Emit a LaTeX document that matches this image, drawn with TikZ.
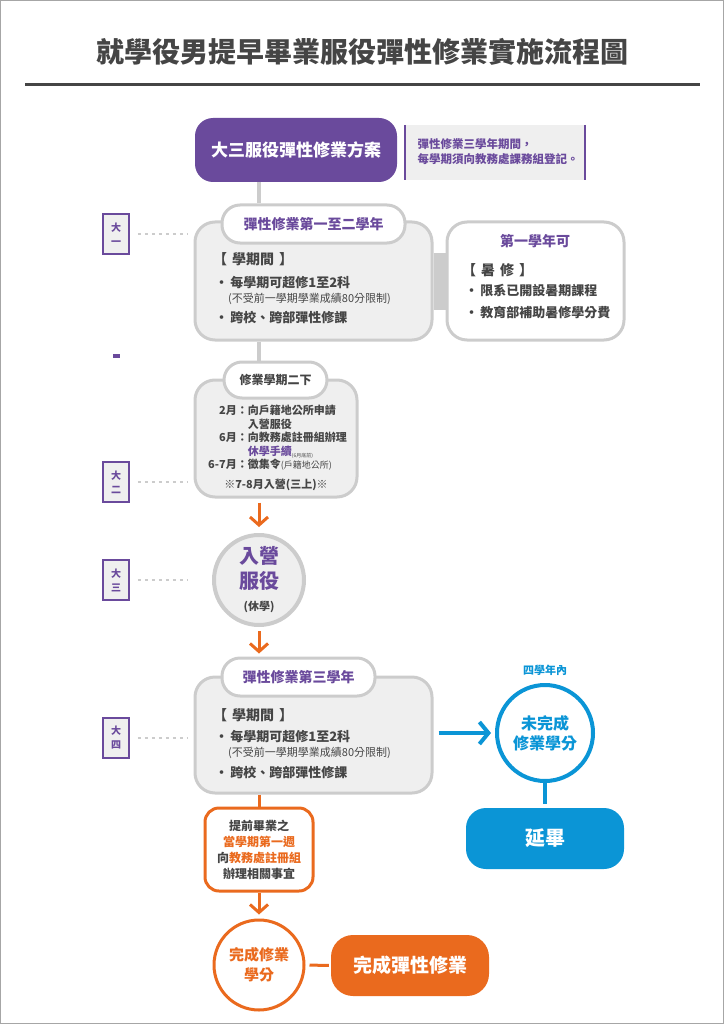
\documentclass[tikz,border=0pt]{standalone}
\usepackage{fontspec}
\setmainfont{Noto Sans CJK TC}
\usetikzlibrary{positioning}
\usetikzlibrary{arrows.meta}
\usetikzlibrary{backgrounds}
\definecolor{purp}{HTML}{6A4A9C}
\definecolor{orng}{HTML}{EA6A1E}
\definecolor{blu}{HTML}{0B95D6}
\definecolor{boxfill}{HTML}{EFEFEF}
\definecolor{boxline}{HTML}{CCCCCC}
\definecolor{dark}{HTML}{454545}
\newcommand{\fs}[2]{\fontsize{#1}{#2}\selectfont}
\tikzset{graybox/.style = {draw=boxline, fill=boxfill, line width=3pt, rounded corners=20pt}}
\tikzset{pill/.style = {draw=boxline, fill=white, line width=3pt, rounded corners=18pt, font=\fs{14}{16}\bfseries, text=purp}}
\tikzset{yearbox/.style = {draw=purp, fill=boxfill, line width=1.5pt, minimum width=26, minimum height=40, inner sep=0, align=center, font=\fs{10}{14}\bfseries, text=purp}}
\tikzset{dotline/.style = {draw=boxline, line width=1.5pt, dash pattern=on 3pt off 4pt}}
\tikzset{grayconn/.style = {draw=boxline, line width=4pt}}
\tikzset{orarrow/.style = {draw=orng, line width=3pt, -{Straight Barb[length=8pt,width=18pt]}}}
\tikzset{txt/.style = {anchor=west, inner sep=0, text=dark, font=\fs{13}{16}\bfseries}}

\begin{document}
\begin{tikzpicture}[x=1pt, y=-1pt]
    \useasboundingbox (0,0) rectangle (724,1024);
    \draw[gray!70, line width=1pt] (0.5,0.5) rectangle (723.5,1023.5);
    % title
    \node[text=dark, font=\fs{28}{32}\bfseries] (title) at (362,52) {就學役男提早畢業服役彈性修業實施流程圖};
    \coordinate (rl) at (25,85);
    \coordinate (rr) at (700,85);
    \draw[dark, line width=3pt] (rl) -- (rr);
    \coordinate (spine) at (259,0);

    % top
    \node[fill=purp, rounded corners=18pt, minimum width=202, minimum height=64, text=white, font=\fs{17}{20}\bfseries] (plan) at (296,150) {大三服役彈性修業方案};
    \node[fill=boxfill, minimum width=180, minimum height=55, inner sep=0] (note) at (495,152.5) {};
    \node[anchor=west, align=left, text=purp, font=\fs{11.5}{15}\bfseries] (notetxt) at (414,152) {彈性修業三學年期間，\\每學期須向教務處課務組登記。};
    \draw[purp, line width=2pt] (note.north west) -- (note.south west);
    \draw[purp, line width=1.5pt] (note.north east) -- (note.south east);

    % first and second year
    \node[graybox, minimum width=237, minimum height=118] (yr12) at (313.5,281) {};
    \node[draw=boxline, fill=white, line width=3pt, rounded corners=20pt, minimum width=177, minimum height=118] (summer) at (535.5,281) {};
    \begin{scope}[on background layer]
        \draw[boxline, line width=57pt] (yr12.east) -- (summer.west);
    \end{scope}
    \node[pill, minimum width=183, minimum height=38] (t12) at (313.5,224) {彈性修業第一至二學年};
    \node[txt, font=\fs{14}{16}\bfseries] (s12) at (213,259) {【\hspace{5pt}學期間\hspace{5pt}】};
    \node[txt] (b12a) at (215,283) {•\,每學期可超修1至2科};
    \node[txt, font=\fs{11}{13}] (b12b) at (228,299) {(不受前一學期學業成績80分限制)};
    \node[txt] (b12c) at (215,318) {•\,跨校、跨部彈性修課};
    \node[text=purp, font=\fs{14}{16}\bfseries] (sumhd) at (535,241) {第一學年可};
    \node[txt, font=\fs{14}{16}\bfseries] (sumtl) at (462,270) {【\hspace{5pt}暑\hspace{5pt}修\hspace{5pt}】};
    \node[txt] (suma) at (465,291) {•\,限系已開設暑期課程};
    \node[txt] (sumb) at (465,313) {•\,教育部補助暑修學分費};
    \draw[grayconn] (spine |- plan.south) -- (spine |- t12.north);

    % second semester of year two
    \node[graybox, minimum width=162, minimum height=117] (sem2) at (276,438.5) {};
    \node[pill, text=dark, font=\fs{12}{14}\bfseries, minimum width=103, minimum height=36] (t2b) at (275.5,380) {修業學期二下};
    \draw[grayconn] (spine |- yr12.south) -- (spine |- t2b.north);
    \node[anchor=north west, inner sep=0, text=dark, font=\fs{11}{13.5}\bfseries] (steps) at (208,405) {%
        \begin{tabular}{@{}r@{}l@{}}
        2月：& 向戶籍地公所申請\\
             & 入營服役\\
        6月：& 向教務處註冊組辦理\\
             & \textcolor{purp}{休學手續}{\fs{5}{6}\mdseries\raisebox{-2pt}{(6月底前)}}\\
        6-7月：& 徵集令{\fs{9}{11}\mdseries(戶籍地公所)}
        \end{tabular}};
    \node[text=dark, font=\fs{11}{13}\bfseries] (enlist) at (276,485) {※7-8月入營(三上)※};

    % service
    \node[circle, draw=boxline, fill=boxfill, line width=4pt, minimum size=90, inner sep=0, align=center, text=purp, font=\fs{20}{25}\bfseries] (camp) at (259,580) {入營\\服役\\[-3pt]{\fs{11}{13}\color{dark}(休學)}};
    \draw[orarrow, shorten <=4pt, shorten >=6pt] (camp |- sem2.south) -- (camp.north);

    % third year
    \node[graybox, minimum width=237, minimum height=116] (yr3) at (313.5,735) {};
    \node[pill, minimum width=153, minimum height=38] (t3) at (298.5,677) {彈性修業第三學年};
    \draw[orarrow, shorten <=4pt, shorten >=3pt] (camp.south) -- (spine |- t3.north);
    \node[txt, font=\fs{14}{16}\bfseries] (s3) at (213,715) {【\hspace{5pt}學期間\hspace{5pt}】};
    \node[txt] (b3a) at (215,737) {•\,每學期可超修1至2科};
    \node[txt, font=\fs{11}{13}] (b3b) at (228,753) {(不受前一學期學業成績80分限制)};
    \node[txt] (b3c) at (215,772) {•\,跨校、跨部彈性修課};

    % not finished
    \node[circle, draw=blu, fill=white, line width=4pt, minimum size=96, inner sep=0, align=center, text=blu, font=\fs{16}{20}\bfseries] (unf) at (545,733) {未完成\\修業學分};
    \node[text=blu, font=\fs{11}{13}\bfseries, above=4pt of unf] (four) {四學年內};
    \draw[blu, line width=4pt, -{Straight Barb[length=9pt,width=22pt]}, shorten <=5pt, shorten >=4pt] (yr3.east |- unf.west) -- (unf.west);
    \node[fill=blu, rounded corners=20pt, minimum width=158, minimum height=61, text=white, font=\fs{20}{24}\bfseries] (delay) at (545,838.5) {延畢};
    \draw[blu, line width=4pt, shorten >=4pt] (unf.south) -- (delay.north);

    % early graduation
    \node[draw=orng, fill=white, line width=3pt, rounded corners=14pt, minimum width=108, minimum height=83, align=center, text=dark, font=\fs{12}{16}\bfseries] (early) at (259,849.5) {提前畢業之\\\textcolor{orng}{當學期第一週}\\向\textcolor{orng}{教務處註冊組}\\辦理相關事宜};
    \draw[orng, line width=3pt] (yr3.south -| early) -- (early.north);
    \node[circle, draw=orng, fill=white, line width=3pt, minimum size=90, inner sep=0, align=center, text=orng, font=\fs{15}{20}\bfseries] (done) at (259,965) {完成修業\\學分};
    \draw[orarrow, shorten >=4pt] (early.south) -- (done.north);
    \node[fill=orng, rounded corners=22pt, minimum width=158, minimum height=61, text=white, font=\fs{19}{22}\bfseries] (fin) at (410,965.5) {完成彈性修業};
    \draw[orng, line width=3pt, shorten <=4pt, shorten >=2pt] (done.east) -- (fin.west);

    % year labels
    \foreach \yy/\lbl/\nm in {234/{大\\一}/y1, 482/{大\\二}/y2, 580/{大\\三}/y3, 738/{大\\四}/y4} {
        \node[yearbox] (\nm) at (116,\yy) {\lbl};
        \coordinate (\nm e) at (188,\yy);
        \draw[dotline, shorten <=8pt] (\nm.east) -- (\nm e);
    }
    \fill[purp] (113,354) rectangle (120,358);
\end{tikzpicture}
\end{document}
